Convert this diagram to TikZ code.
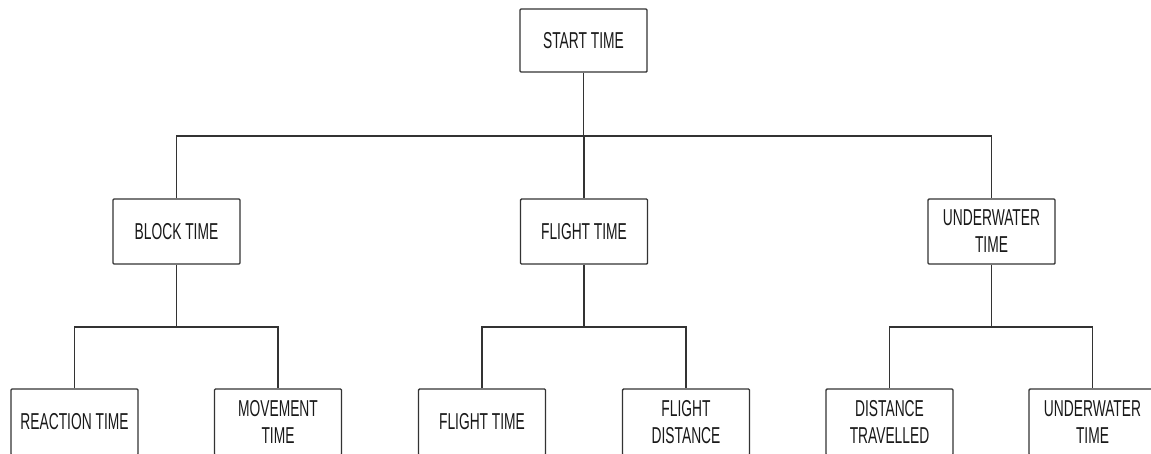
\documentclass[tikz,border=0pt]{standalone}
\usepackage{fontspec}
\setmainfont{Liberation Sans}[FakeStretch=0.6]
\begin{document}
\begin{tikzpicture}[x=1pt,y=-1pt,
  box/.style={draw=black!80, line width=1.4pt, fill=white, rounded corners=1pt,
    minimum width=127pt, inner sep=0pt, align=center, text=black!90,
    font=\fontsize{23}{27}\selectfont},
  conn/.style={draw=black!80, line width=1.4pt}]
\clip (0,0) rectangle (1151,453);
\useasboundingbox (0,0) rectangle (1151,453);
\coordinate (b1) at (0,136);
\coordinate (b2) at (0,327);
\node[box, minimum height=63pt] (start) at (583.5,40.5) {START TIME};
\node[box, minimum height=65pt] (block) at (176.5,231.5) {BLOCK TIME};
\node[box, minimum height=65pt] (flight) at (584,231.5) {FLIGHT TIME};
\node[box, minimum height=65pt] (under) at (991.5,231.5) {UNDERWATER\\TIME};
\node[box, minimum height=66pt] (react) at (74.5,422) {REACTION TIME};
\node[box, minimum height=66pt] (move) at (278,422) {MOVEMENT\\TIME};
\node[box, minimum height=66pt] (ft) at (482,422) {FLIGHT TIME};
\node[box, minimum height=66pt] (fd) at (686,422) {FLIGHT\\DISTANCE};
\node[box, minimum height=66pt] (dt) at (889.5,422) {DISTANCE\\TRAVELLED};
\node[box, minimum height=66pt] (ut) at (1092.5,422) {UNDERWATER\\TIME};
\draw[conn] (start.south) -- (start.south |- b1);
\draw[conn] (block.north) |- (under.north |- b1) -- (under.north);
\draw[conn] (flight.north) -- (flight.north |- b1);
\draw[conn] (block.south) -- (block.south |- b2);
\draw[conn] (react.north) |- (move.north |- b2) -- (move.north);
\draw[conn] (flight.south) -- (flight.south |- b2);
\draw[conn] (ft.north) |- (fd.north |- b2) -- (fd.north);
\draw[conn] (under.south) -- (under.south |- b2);
\draw[conn] (dt.north) |- (ut.north |- b2) -- (ut.north);
\end{tikzpicture}
\end{document}
